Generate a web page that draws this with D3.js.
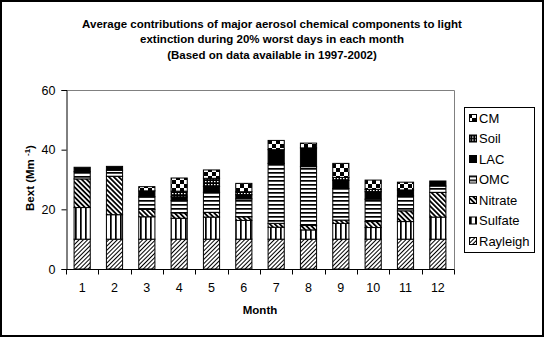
<!DOCTYPE html>
<html>
<head>
<meta charset="utf-8">
<script src="https://cdn.jsdelivr.net/npm/d3@7"></script>
<style>
  html, body { margin: 0; padding: 0; background: #fff; }
  svg { display: block; font-family: "Liberation Sans", Arial, sans-serif; }
</style>
</head>
<body>
<svg id="chart" width="545" height="338"></svg>
<script>
// ---- data ----
const months = ["1","2","3","4","5","6","7","8","9","10","11","12"];
const seriesNames = ["Rayleigh","Sulfate","Nitrate","OMC","LAC","Soil","CM"];
const rayleigh = [10, 10, 10, 10, 10, 10, 10, 10, 10, 10, 10, 10];
const sulfate  = [10.6, 8.2, 7.5, 7.0, 7.4, 6.3, 4.0, 3.1, 5.3, 3.9, 5.9, 7.4];
const nitrate  = [9.6, 12.9, 2.5, 1.8, 1.6, 1.2, 1.3, 1.5, 1.1, 2.0, 3.6, 8.3];
const omc      = [2.4, 2.0, 4.2, 4.1, 6.7, 6.0, 20.1, 19.7, 10.6, 7.5, 5.0, 2.1];
const lac      = [1.5, 1.3, 2.0, 1.3, 2.0, 1.4, 4.6, 6.3, 2.7, 2.5, 2.0, 1.7];
const soil     = [0, 0, 0, 1.9, 2.7, 1.0, 0, 0, 1.0, 0.8, 0, 0];
const cm       = [0, 0, 1.4, 4.4, 2.8, 2.8, 3.1, 1.6, 4.7, 3.1, 2.6, 0];
const yTicks = [0, 20, 40, 60];
const titleLines = [
  "Average contributions of major aerosol chemical components to light",
  "extinction during 20% worst days in each month",
  "(Based on data available in 1997-2002)"
];

const seriesValues = {Rayleigh: rayleigh, Sulfate: sulfate, Nitrate: nitrate, OMC: omc, LAC: lac, Soil: soil, CM: cm};
const table = months.map((m, i) => {
  const row = {month: m};
  seriesNames.forEach(s => row[s] = seriesValues[s][i]);
  return row;
});

const svg = d3.select("#chart");
const defs = svg.append("defs");

// ---- patterns ----
function linePattern(id, period, lineW, angle) {
  const p = defs.append("pattern").attr("id", id)
    .attr("patternUnits", "userSpaceOnUse")
    .attr("width", period).attr("height", period)
    .attr("patternTransform", `rotate(${angle})`);
  p.append("rect").attr("width", period).attr("height", period).attr("fill", "#fff");
  p.append("rect").attr("x", 0).attr("y", 0).attr("width", lineW).attr("height", period).attr("fill", "#000");
}
linePattern("p-Rayleigh", 3, 1, 45);
linePattern("p-Nitrate", 3.5, 1.8, -45);
linePattern("p-Sulfate", 5, 1.7, 0);
linePattern("p-OMC", 4, 1.7, 90);
(function(){
  const p = defs.append("pattern").attr("id", "p-Soil")
    .attr("patternUnits", "userSpaceOnUse").attr("width", 3).attr("height", 3);
  p.append("rect").attr("width", 3).attr("height", 3).attr("fill", "#000");
  p.append("rect").attr("x", 1).attr("y", 1).attr("width", 1.5).attr("height", 1.2).attr("fill", "#fff");
})();
(function(){
  const p = defs.append("pattern").attr("id", "p-CM")
    .attr("patternUnits", "userSpaceOnUse").attr("width", 8).attr("height", 8);
  p.append("rect").attr("width", 8).attr("height", 8).attr("fill", "#fff");
  p.append("rect").attr("x", 0).attr("y", 0).attr("width", 4).attr("height", 4).attr("fill", "#000");
  p.append("rect").attr("x", 4).attr("y", 4).attr("width", 4).attr("height", 4).attr("fill", "#000");
})();
const fillFor = s => s === "LAC" ? "#000" : `url(#p-${s})`;

// ---- outer border ----
svg.append("rect").attr("x", 1).attr("y", 1).attr("width", 542).attr("height", 335)
  .attr("fill", "#fff").attr("stroke", "#000").attr("stroke-width", 2);

// ---- title ----
svg.append("g").selectAll("text").data(titleLines).join("text")
  .attr("x", 272).attr("y", (d, i) => 28 + i * 15.3)
  .attr("text-anchor", "middle").attr("font-size", 11.5).attr("font-weight", "bold")
  .text(d => d);

// ---- scales ----
const plot = {left: 66, right: 454, top: 90, bottom: 269};
const x = d3.scaleBand().domain(months).range([plot.left, plot.right]).padding(0);
const y = d3.scaleLinear().domain([0, 60]).range([plot.bottom, plot.top]);

// plot border (gray top/right)
svg.append("path")
  .attr("d", `M${plot.left},${plot.top + 0.5}H${plot.right + 0.5}V${plot.bottom}`)
  .attr("fill", "none").attr("stroke", "#808080").attr("stroke-width", 1);

// ---- bars ----
const stack = d3.stack().keys(seriesNames)(table);
const barW = x.bandwidth() * 0.5;
svg.append("g").selectAll("g").data(stack).join("g")
  .attr("fill", d => fillFor(d.key))
  .selectAll("rect").data(d => d.filter(v => v[1] - v[0] > 0)).join("rect")
  .attr("x", d => x(d.data.month) + (x.bandwidth() - barW) / 2)
  .attr("width", barW)
  .attr("y", d => y(d[1]))
  .attr("height", d => y(d[0]) - y(d[1]))
  .attr("stroke", "#000").attr("stroke-width", 1);

// ---- axes ----
const yAxis = d3.axisLeft(y).tickValues(yTicks).tickSize(5).tickPadding(6);
const gy = svg.append("g").attr("transform", `translate(${plot.left + 0.5},0)`).call(yAxis);
gy.select(".domain").attr("stroke", "#000");
gy.selectAll("text").attr("font-size", 12.5).attr("font-family", "Liberation Sans, Arial, sans-serif");

// x axis: ticks at band boundaries, labels at centers
const gx = svg.append("g").attr("transform", `translate(0,${plot.bottom + 0.5})`);
gx.call(d3.axisBottom(x).tickSize(0).tickPadding(14));
gx.select(".domain").attr("d", `M${plot.left},0H${plot.right + 0.5}`).attr("stroke", "#000");
gx.selectAll("text").attr("font-size", 12.5).attr("font-family", "Liberation Sans, Arial, sans-serif");
const boundaries = months.map(m => x(m)).concat([plot.right]);
gx.selectAll("line.bt").data(boundaries).join("line").attr("class", "bt")
  .attr("x1", d => Math.round(d) + 0.5).attr("x2", d => Math.round(d) + 0.5)
  .attr("y1", 0).attr("y2", 5).attr("stroke", "#000");

// axis titles
svg.append("text").attr("x", 260).attr("y", 314).attr("text-anchor", "middle")
  .attr("font-size", 11.5).attr("font-weight", "bold").text("Month");
const yt = svg.append("text").attr("transform", "translate(34,178) rotate(-90)")
  .attr("text-anchor", "middle").attr("font-size", 11.5).attr("font-weight", "bold");
yt.append("tspan").text("Bext (Mm ");
yt.append("tspan").attr("font-size", 8).attr("dy", -4).text("-1");
yt.append("tspan").attr("dy", 4).text(")");

// ---- legend ----
const legendOrder = seriesNames.slice().reverse();
const lg = svg.append("g");
lg.append("rect").attr("x", 464.5).attr("y", 107.5).attr("width", 70).attr("height", 145)
  .attr("fill", "#fff").attr("stroke", "#000");
const items = lg.selectAll("g.item").data(legendOrder).join("g").attr("class", "item")
  .attr("transform", (d, i) => `translate(0,${118 + i * 20.5})`);
items.append("rect").attr("x", 469.5).attr("y", -3.5).attr("width", 7).attr("height", 7)
  .attr("fill", d => fillFor(d)).attr("stroke", "#000");
items.append("text").attr("x", 479).attr("y", 4.5).attr("font-size", 13).text(d => d);
</script>
</body>
</html>
